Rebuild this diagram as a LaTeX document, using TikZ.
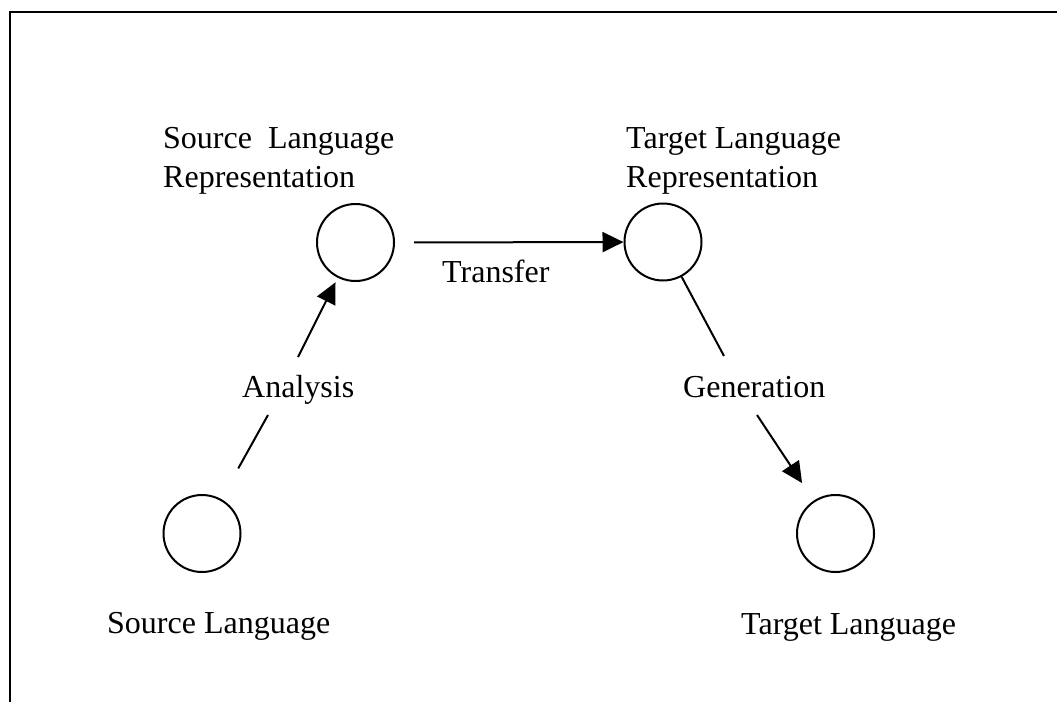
\documentclass[tikz,border=0pt]{standalone}
\usepackage{fontspec}
\setmainfont{Liberation Serif}
\usetikzlibrary{arrows.meta}

\begin{document}
\begin{tikzpicture}[x = 1pt, y = -1pt,
        every node/.style = {font = \fontsize{32}{39}\selectfont, inner sep = 0},
        state/.style = {draw, circle, line width = 2pt, minimum size = 77pt},
        link/.style = {line width = 2pt},
        tip/.style = {-{Triangle[length = 21pt, width = 20pt]}}]
        \useasboundingbox (0, 0) rectangle (1057, 702);
        \draw[line width = 2.2pt] (10, 702) -- (10, 12) -- (1057, 12);
        % states
        \node[state] (slr) at (355.5, 242.5) {};
        \node[state] (tlr) at (663, 242) {};
        \node[state] (sl) at (202, 533.5) {};
        \node[state] (tl) at (835.5, 533.5) {};
        % labels
        \node[anchor = north west, align = left] (slrtext) at (163, 127) {Source\ \ Language\\Representation};
        \node[anchor = north west, align = left] (tlrtext) at (626, 127) {Target Language\\Representation};
        \node[anchor = base west] (sltext) at (107, 633) {Source Language};
        \node[anchor = base west] (tltext) at (741, 634) {Target Language};
        \node[anchor = base west] (tr) at (442, 282) {Transfer};
        \node[anchor = base west] (an) at (242, 397) {Analysis};
        \node[anchor = base west] (ge) at (683, 397) {Generation};
        % breaks in the arrows
        \coordinate (a1) at (268, 415);
        \coordinate (a2) at (298, 357);
        \coordinate (g1) at (724, 356);
        \coordinate (g2) at (757, 415);
        % arrows
        \draw[link, tip, shorten < = 19pt] (slr) -- (tlr);
        \draw[link, shorten < = 35pt] (sl) -- (a1);
        \draw[link, tip, shorten > = 5pt] (a2) -- (slr);
        \draw[link] (tlr) -- (g1);
        \draw[link, tip, shorten > = 21pt] (g2) -- (tl);
\end{tikzpicture}
\end{document}
